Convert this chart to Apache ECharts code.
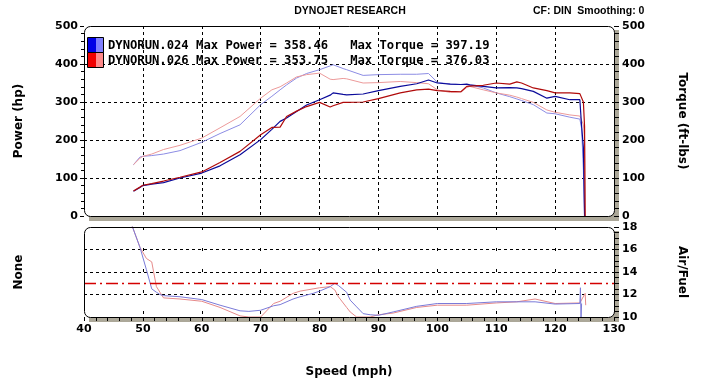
<!DOCTYPE html>
<html>
<head>
<meta charset="utf-8">
<script src="https://cdn.jsdelivr.net/npm/echarts@6/dist/echarts.min.js"></script>
<style>
html,body{margin:0;padding:0;background:#fff;}
#c{width:702px;height:389px;}
</style>
</head>
<body>
<div id="c"></div>
<script>
// ---- data ----
const speed = [48.4, 49.5, 50, 51.5, 53.5, 56.3, 60, 63.1, 66.5, 70, 71.9, 73.3, 74.4, 76.1, 77.8, 80, 81.8, 82.3, 84, 84.6, 87.4, 90, 93.7, 96.5, 98.5, 100, 102.2, 104, 105, 105.5, 107.8, 110, 112.3, 113.5, 114.3, 116.3, 118.6, 120, 122.5, 124.2, 124.5, 124.8, 125, 125.1];
const power024  = [65, 75, 80, 84, 88, 100, 113, 132, 161, 201, 228, 249, 258, 275, 292, 306, 318, 324, 320, 319, 321, 330, 341, 348, 358, 350, 347, 346, 347, 345, 341, 337, 338, 337, 335, 328, 310, 315, 306, 306, 236, 180, 0, 0];
const torque024 = [135, 155, 157, 159, 163, 172, 194, 217, 240, 293, 315, 332, 345, 363, 375, 385, 395, 398, 388, 385, 370, 372, 373, 373, 375, 352, 347, 346, 346, 345, 337, 324, 314, 308, 304, 293, 271, 269, 260, 255, 230, 120, 0, 0];
const power026  = [66, 76, 81, 85, 92, 102, 116, 141, 170, 214, 233, 234, 262, 276, 288, 299, 287, 290, 299, 299, 300, 309, 324, 332, 334, 330, 328, 327, 341, 342, 344, 350, 347, 353, 350, 337, 330, 324, 324, 322, 321, 300, 236, 0];
const torque026 = [135, 152, 157, 163, 175, 186, 205, 232, 262, 310, 332, 340, 350, 366, 372, 376, 360, 359, 362, 361, 350, 351, 354, 351, 348, 332, 325, 326, 338, 341, 332, 324, 318, 313, 309, 299, 279, 273, 266, 263, 262, 240, 200, 0];

const afrSpeed = [48.1, 49.5, 50.6, 51.5, 52.3, 52.9, 53.5, 56.3, 60, 63.1, 66.5, 68, 70, 72.2, 73.3, 75.5, 76.7, 78.9, 80, 81.8, 82.6, 83.2, 84.6, 85.2, 86.3, 87.4, 88.6, 90, 92.5, 96.5, 100, 105, 110, 113.5, 116.6, 120, 124.2, 124.3, 124.4, 124.5, 125.1, 125.2];
const afr024 = [18.2, 16.2, 14.2, 12.5, 12.2, 12.0, 11.9, 11.8, 11.55, 11.05, 10.55, 10.5, 10.6, 11.0, 11.1, 11.6, 11.8, 12.1, 12.3, 12.7, 13.0, 12.8, 12.2, 11.5, 10.9, 10.3, 10.2, 10.15, 10.45, 10.95, 11.2, 11.2, 11.35, 11.35, 11.35, 11.15, 11.2, 12.6, 9.9, 11.2, null, null];
const afr026 = [18.2, 16.2, 15.2, 14.9, 12.7, 12.2, 11.7, 11.6, 11.4, 10.85, 10.1, 10.0, 10.0, 11.2, 11.4, 12.1, 12.3, 12.5, 12.6, 12.7, 12.4, 11.8, 10.85, 10.45, 10.0, 10.0, 10.0, 10.2, 10.35, 10.85, 11.05, 11.05, 11.25, 11.35, 11.6, 11.2, 11.25, 11.25, 11.25, 11.25, 12.1, 11.05];
const afrRef = 13;

const legend024 = 'DYNORUN.024 Max Power = 358.46   Max Torque = 397.19';
const legend026 = 'DYNORUN.026 Max Power = 353.75   Max Torque = 376.03';

// ---- layout ----
const G0 = {left: 84, top: 26, width: 530, height: 190};
const G1 = {left: 84, top: 227, width: 530, height: 90};
const zip = (xs, ys) => xs.map((x, i) => [x, ys[i]]);
const tickFont = {fontFamily: 'DejaVu Sans', fontWeight: 'bold', fontSize: 11, color: '#000'};
const nameFont = {fontFamily: 'DejaVu Sans', fontWeight: 'bold', fontSize: 12, color: '#000'};
const dashed = {color: '#000', width: 1, type: [3, 3]};

function frame(g) {
  return [
    {type: 'rect', silent: true, z: -20, shape: {x: g.left + 5, y: g.top + 4, width: g.width, height: g.height + 1}, style: {fill: '#aca899'}},
    {type: 'rect', silent: true, z: -10, shape: {x: g.left + 0.5, y: g.top + 0.5, width: g.width, height: g.height, r: 6}, style: {fill: '#fff'}},
    {type: 'rect', silent: true, z: 100, shape: {x: g.left + 0.5, y: g.top + 0.5, width: g.width, height: g.height, r: 6}, style: {fill: null, stroke: '#000', lineWidth: 1}}
  ];
}

const chart = echarts.init(document.getElementById('c'), null, {renderer: 'canvas'});
const option = {
  animation: false,
  backgroundColor: '#fff',
  grid: [
    Object.assign({containLabel: false}, G0),
    Object.assign({containLabel: false}, G1)
  ],
  xAxis: [
    {type: 'value', gridIndex: 0, min: 40, max: 130, interval: 10,
     axisLine: {show: false}, axisTick: {show: false}, axisLabel: {show: false},
     splitLine: {show: true, showMinLine: false, showMaxLine: false, lineStyle: dashed}},
    {type: 'value', gridIndex: 1, min: 40, max: 130, interval: 10,
     axisLine: {show: false},
     axisTick: {show: true, inside: false, length: 4, lineStyle: {color: '#000'}},
     minorTick: {show: true, splitNumber: 5, length: 4, lineStyle: {color: '#000'}},
     axisLabel: Object.assign({margin: 7}, tickFont),
     splitLine: {show: true, showMinLine: false, showMaxLine: false, lineStyle: {color: '#000', width: 1, type: [3, 18]}},
     name: 'Speed (mph)', nameLocation: 'middle', nameGap: 49, nameTextStyle: nameFont}
  ],
  yAxis: [
    {type: 'value', gridIndex: 0, min: 0, max: 500, interval: 100, position: 'left',
     axisLine: {show: false},
     axisTick: {show: true, inside: false, length: 4, lineStyle: {color: '#000'}},
     minorTick: {show: true, splitNumber: 5, length: 3, lineStyle: {color: '#000'}},
     axisLabel: Object.assign({margin: 6}, tickFont),
     splitLine: {show: true, showMinLine: false, showMaxLine: false, lineStyle: dashed},
     name: 'Power (hp)', nameLocation: 'middle', nameGap: 59, nameTextStyle: nameFont},
    {type: 'value', gridIndex: 0, min: 0, max: 500, interval: 100, position: 'right',
     axisLine: {show: false},
     axisTick: {show: true, inside: false, length: 5, lineStyle: {color: '#000'}},
     minorTick: {show: true, splitNumber: 5, length: 5, lineStyle: {color: '#000'}},
     axisLabel: Object.assign({margin: 8}, tickFont),
     splitLine: {show: false},
     name: 'Torque (ft-lbs)', nameLocation: 'middle', nameRotate: -90, nameGap: 62, nameTextStyle: nameFont},
    {type: 'value', gridIndex: 1, min: 10, max: 18, interval: 2, position: 'left',
     axisLine: {show: false}, axisTick: {show: false}, axisLabel: {show: false},
     splitLine: {show: false},
     name: 'None', nameLocation: 'middle', nameGap: 59, nameTextStyle: nameFont},
    {type: 'value', gridIndex: 1, min: 10, max: 18, interval: 2, position: 'right',
     axisLine: {show: false},
     axisTick: {show: true, inside: false, length: 5, lineStyle: {color: '#000'}},
     minorTick: {show: true, splitNumber: 4, length: 5, lineStyle: {color: '#000'}},
     axisLabel: Object.assign({margin: 8}, tickFont),
     splitLine: {show: true, showMinLine: false, showMaxLine: false, lineStyle: dashed},
     name: 'Air/Fuel', nameLocation: 'middle', nameRotate: -90, nameGap: 62, nameTextStyle: nameFont}
  ],
  series: [
    {name: 'Torque 024', type: 'line', xAxisIndex: 0, yAxisIndex: 1, data: zip(speed, torque024), showSymbol: false, lineStyle: {color: '#8c8ce4', width: 1}},
    {name: 'Torque 026', type: 'line', xAxisIndex: 0, yAxisIndex: 1, data: zip(speed, torque026), showSymbol: false, lineStyle: {color: '#ec9a9a', width: 1}},
    {name: 'Power 024', type: 'line', xAxisIndex: 0, yAxisIndex: 0, data: zip(speed, power024), showSymbol: false, lineStyle: {color: '#0a0a9a', width: 1.2}},
    {name: 'Power 026', type: 'line', xAxisIndex: 0, yAxisIndex: 0, data: zip(speed, power026), showSymbol: false, lineStyle: {color: '#b00a0a', width: 1.2}},
    {name: 'AFR 026', type: 'line', xAxisIndex: 1, yAxisIndex: 3, data: zip(afrSpeed, afr026), showSymbol: false, lineStyle: {color: '#e68a8a', width: 1}},
    {name: 'AFR 024', type: 'line', xAxisIndex: 1, yAxisIndex: 3, data: zip(afrSpeed, afr024), showSymbol: false, lineStyle: {color: '#7a7ad8', width: 1},
     markLine: {silent: true, symbol: 'none', label: {show: false}, data: [{yAxis: afrRef}],
                emphasis: {disabled: true},
                lineStyle: {color: '#d40000', opacity: 1, width: 1.3, type: [12, 4, 2, 4]}}}
  ],
  graphic: [
    ...frame(G0), ...frame(G1),
    {type: 'text', silent: true, z: 110, x: 350, y: 11, style: {text: 'DYNOJET RESEARCH', fontFamily: 'Liberation Sans', fontWeight: 'bold', fontSize: 10.5, fill: '#000', align: 'center', verticalAlign: 'middle'}},
    {type: 'text', silent: true, z: 110, x: 533, y: 11, style: {text: 'CF: DIN  Smoothing: 0', fontFamily: 'Liberation Sans', fontWeight: 'bold', fontSize: 10.5, fill: '#000', align: 'left', verticalAlign: 'middle'}},
    {type: 'rect', silent: true, z: 110, shape: {x: 88, y: 37.5, width: 8, height: 15}, style: {fill: '#0000e6'}},
    {type: 'rect', silent: true, z: 110, shape: {x: 96, y: 37.5, width: 8, height: 15}, style: {fill: '#8080ff'}},
    {type: 'rect', silent: true, z: 110, shape: {x: 88, y: 52.5, width: 8, height: 15}, style: {fill: '#f00000'}},
    {type: 'rect', silent: true, z: 110, shape: {x: 96, y: 52.5, width: 8, height: 15}, style: {fill: '#ff8a8a'}},
    {type: 'rect', silent: true, z: 111, shape: {x: 87.5, y: 37.5, width: 16, height: 15}, style: {fill: null, stroke: '#000', lineWidth: 1}},
    {type: 'rect', silent: true, z: 111, shape: {x: 87.5, y: 52.5, width: 16, height: 15}, style: {fill: null, stroke: '#000', lineWidth: 1}},
    {type: 'text', silent: true, z: 110, x: 108, y: 45.5, style: {text: legend024, fontFamily: 'DejaVu Sans Mono', fontWeight: 'bold', fontSize: 12.2, fill: '#000', align: 'left', verticalAlign: 'middle'}},
    {type: 'text', silent: true, z: 110, x: 108, y: 60.5, style: {text: legend026, fontFamily: 'DejaVu Sans Mono', fontWeight: 'bold', fontSize: 12.2, fill: '#000', align: 'left', verticalAlign: 'middle'}}
  ]
};
chart.setOption(option);
</script>
</body>
</html>
